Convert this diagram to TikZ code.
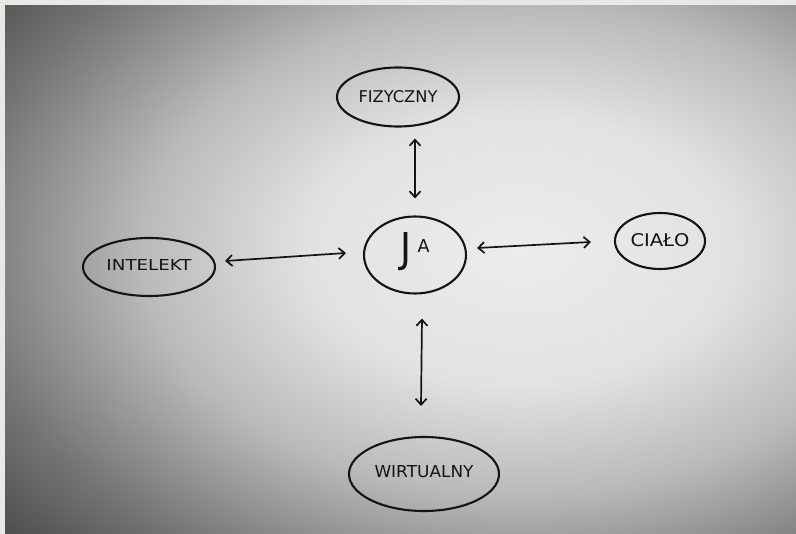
\documentclass[tikz,border=0pt]{standalone}
\usepackage{fontspec}
\setmainfont{DejaVu Sans}
\usetikzlibrary{shapes.geometric,arrows.meta}
\definecolor{paperbg}{HTML}{EAE8E5}
\definecolor{ink}{HTML}{141414}
\definecolor{ph0}{HTML}{ECECEC}
\definecolor{ph1}{HTML}{E2E2E2}
\definecolor{ph2}{HTML}{BABABA}
\definecolor{ph3}{HTML}{747474}
\definecolor{ph4}{HTML}{474747}
\pgfdeclareradialshading{photo}{\pgfpoint{0bp}{0bp}}{color(0bp)=(ph0); color(7.5bp)=(ph1); color(13.5bp)=(ph2); color(20bp)=(ph3); color(25bp)=(ph4); color(50bp)=(ph4)}
\newcommand\hw[3]{\resizebox{#1}{#2}{#3}}
\tikzset{
  bubble/.style={draw=ink, line width=2.1pt, shape=ellipse, inner sep=0pt, text=ink},
  link/.style={draw=ink, line width=1.7pt, {Straight Barb[length=6pt,width=11pt,line width=1.7pt]}-{Straight Barb[length=6pt,width=11pt,line width=1.7pt]}}
}
\begin{document}
\begin{tikzpicture}[x=1pt,y=-1pt]
\useasboundingbox (0,0) rectangle (796,534);
\fill[paperbg] (0,0) rectangle (796,534);
\begin{scope}
\clip (5,6) rectangle (796,534);
\shade[shading=photo] (-180,-200) rectangle (1220,700);
\end{scope}

\node[bubble, minimum width=122pt, minimum height=59pt] (fiz) at (398,97) {\hw{79pt}{12pt}{FIZYCZNY}};
\node[bubble, minimum width=132pt, minimum height=58pt] (intel) at (149,267) {\raisebox{3pt}{\hw{85pt}{11pt}{INTELEKT}}};
\node[bubble, minimum width=102pt, minimum height=77pt] (ja) at (415,255) {\rule[-14pt]{0pt}{0pt}\hw{11pt}{30pt}{J}\hspace{6pt}\raisebox{10pt}{\hw{12pt}{13pt}{A}}};
\node[bubble, minimum width=90pt, minimum height=56pt] (cialo) at (660,241) {\raisebox{1pt}{\hw{59pt}{13pt}{CIAŁO}}};
\node[bubble, minimum width=150pt, minimum height=74pt] (wirt) at (424,474) {\raisebox{4pt}{\hw{99pt}{12pt}{WIRTUALNY}}};

\draw[link] ([xshift=17pt,yshift=-11pt]fiz.south) -- ([yshift=17pt]ja.north);
\draw[link] ([xshift=9pt,yshift=6pt]intel.east) -- ([xshift=-17pt,yshift=2pt]ja.west);
\draw[link] ([xshift=10pt,yshift=7pt]ja.east) -- ([xshift=-23pt,yshift=-1pt]cialo.west);
\draw[link] ([xshift=7pt,yshift=-24pt]ja.south) -- ([xshift=-3pt,yshift=30pt]wirt.north);
\end{tikzpicture}
\end{document}
